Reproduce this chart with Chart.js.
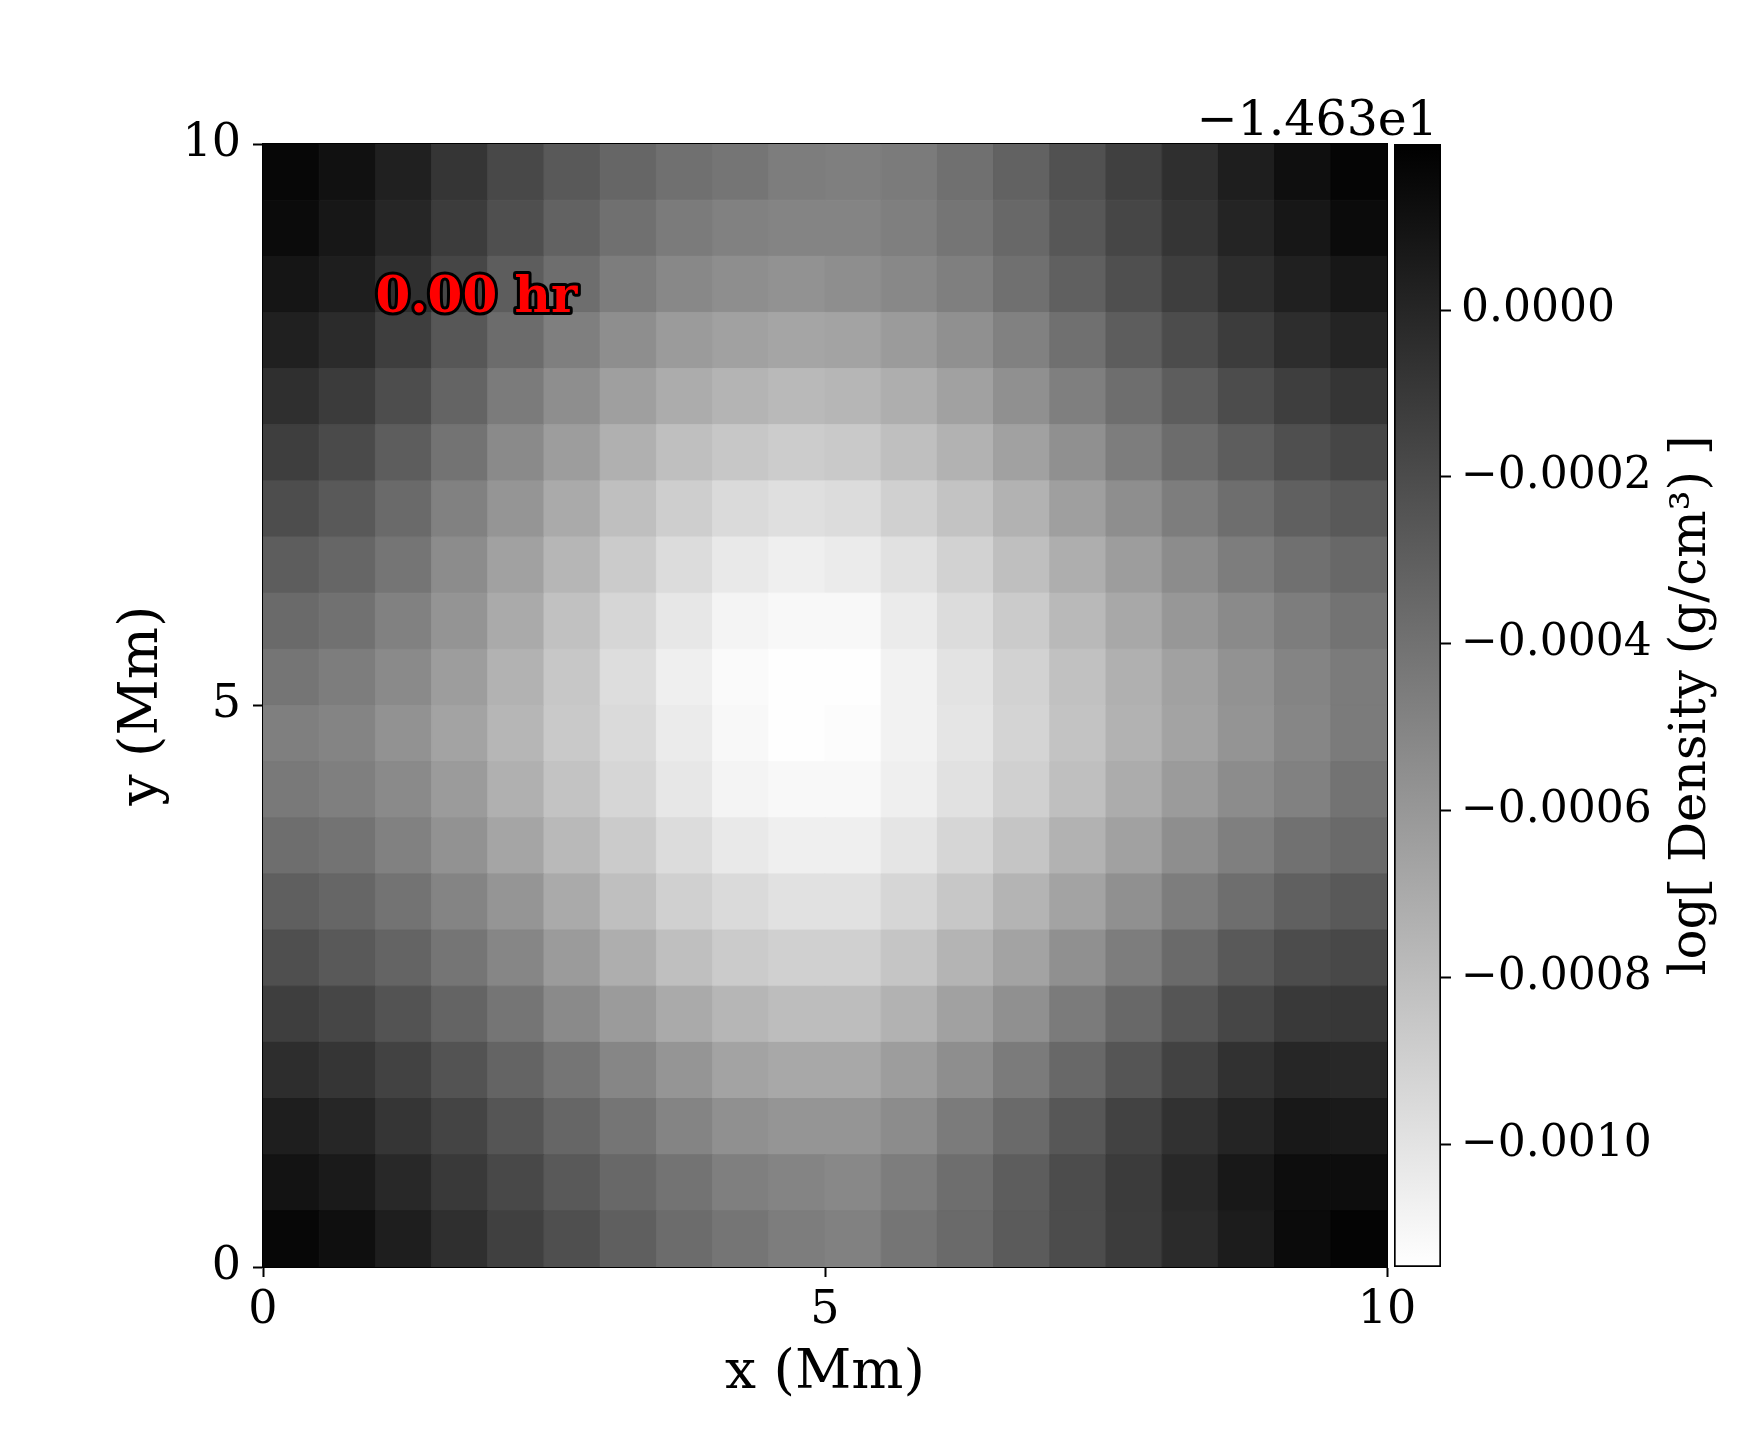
<!DOCTYPE html>
<html>
<head>
<meta charset="utf-8">
<title>log Density</title>
<script src="https://cdn.jsdelivr.net/npm/chart.js@4.4.1/dist/chart.umd.min.js"></script>
<style>
  html, body { margin: 0; padding: 0; background: #fff; }
  #wrap { position: relative; width: 1750px; height: 1440px; }
  #wrap canvas { position: absolute; left: 0; top: 0; }
</style>
</head>
<body>
<div id="wrap">
  <canvas id="densityMap" width="1750" height="1440"></canvas>
  <canvas id="colorBar" width="1750" height="1440"></canvas>
</div>
<script>
// cell centres (Mm)
const xCenters = [0.25, 0.75, 1.25, 1.75, 2.25, 2.75, 3.25, 3.75, 4.25, 4.75,
                  5.25, 5.75, 6.25, 6.75, 7.25, 7.75, 8.25, 8.75, 9.25, 9.75];
const yCenters = [9.75, 9.25, 8.75, 8.25, 7.75, 7.25, 6.75, 6.25, 5.75, 5.25,
                  4.75, 4.25, 3.75, 3.25, 2.75, 2.25, 1.75, 1.25, 0.75, 0.25];

// log density, relative to the offset, in units of 1e-4 (rows from top y=9.75 down)
const densityOffset = '\u22121.463e1';
const densityRows = [
  [1.6, 1.1, 0.3, -0.8, -1.8, -2.7, -3.4, -3.9, -4.2, -4.6, -4.7, -4.5, -3.9, -3.2, -2.3, -1.4, -0.5, 0.4, 1.2, 1.7],
  [1.4, 0.8, 0.0, -1.2, -2.2, -3.2, -3.9, -4.5, -4.8, -5.0, -5.0, -4.7, -4.2, -3.5, -2.6, -1.7, -0.8, 0.1, 0.8, 1.4],
  [0.9, 0.4, -0.5, -1.7, -2.9, -3.8, -4.6, -5.2, -5.5, -5.7, -5.5, -5.2, -4.7, -3.9, -3.1, -2.2, -1.3, -0.4, 0.3, 0.8],
  [0.3, -0.3, -1.3, -2.6, -3.7, -4.7, -5.5, -6.2, -6.5, -6.7, -6.6, -6.2, -5.6, -4.8, -3.9, -2.9, -2.0, -1.2, -0.4, 0.1],
  [-0.5, -1.1, -2.1, -3.3, -4.5, -5.5, -6.4, -7.1, -7.5, -7.8, -7.6, -7.2, -6.5, -5.6, -4.7, -3.8, -2.9, -2.0, -1.3, -0.8],
  [-1.3, -1.9, -2.9, -4.1, -5.3, -6.3, -7.3, -8.1, -8.5, -8.8, -8.6, -8.1, -7.4, -6.5, -5.6, -4.6, -3.7, -2.9, -2.2, -1.7],
  [-2.1, -2.7, -3.6, -4.8, -5.9, -7.0, -8.1, -8.9, -9.5, -9.8, -9.6, -9.0, -8.3, -7.4, -6.4, -5.5, -4.6, -3.8, -3.1, -2.7],
  [-2.9, -3.4, -4.2, -5.4, -6.5, -7.6, -8.7, -9.6, -10.3, -10.6, -10.4, -9.9, -9.1, -8.1, -7.2, -6.3, -5.4, -4.6, -3.9, -3.5],
  [-3.6, -4.0, -4.8, -5.8, -7.0, -8.2, -9.3, -10.2, -10.9, -11.1, -11.1, -10.4, -9.6, -8.7, -7.8, -6.9, -6.0, -5.3, -4.6, -4.1],
  [-4.2, -4.6, -5.3, -6.3, -7.4, -8.5, -9.7, -10.6, -11.2, -11.4, -11.4, -10.8, -10.0, -9.1, -8.2, -7.3, -6.5, -5.7, -5.0, -4.5],
  [-4.7, -5.0, -5.7, -6.6, -7.6, -8.6, -9.5, -10.4, -11.1, -11.4, -11.3, -10.8, -10.1, -9.2, -8.3, -7.4, -6.6, -5.8, -5.1, -4.5],
  [-4.4, -4.7, -5.3, -6.2, -7.3, -8.3, -9.3, -10.2, -10.9, -11.1, -11.1, -10.6, -9.9, -9.0, -8.1, -7.1, -6.2, -5.4, -4.8, -4.1],
  [-3.8, -4.1, -4.8, -5.7, -6.7, -7.8, -8.7, -9.6, -10.3, -10.6, -10.6, -10.1, -9.3, -8.4, -7.4, -6.5, -5.5, -4.7, -4.0, -3.6],
  [-3.0, -3.4, -4.1, -5.0, -5.9, -7.0, -8.1, -9.0, -9.5, -9.9, -9.9, -9.3, -8.5, -7.5, -6.6, -5.6, -4.6, -3.8, -3.1, -2.7],
  [-2.2, -2.7, -3.3, -4.2, -5.1, -6.2, -7.2, -8.1, -8.7, -9.0, -9.0, -8.4, -7.5, -6.6, -5.6, -4.6, -3.6, -2.7, -2.0, -1.8],
  [-1.3, -1.7, -2.4, -3.3, -4.2, -5.3, -6.2, -7.0, -7.6, -8.0, -8.0, -7.4, -6.5, -5.6, -4.5, -3.5, -2.5, -1.7, -1.0, -0.9],
  [-0.4, -0.8, -1.5, -2.4, -3.3, -4.2, -5.1, -5.9, -6.6, -6.9, -6.9, -6.3, -5.5, -4.5, -3.5, -2.5, -1.5, -0.6, 0.0, -0.1],
  [0.4, 0.0, -0.8, -1.6, -2.5, -3.4, -4.2, -5.0, -5.6, -5.9, -5.9, -5.4, -4.5, -3.6, -2.6, -1.5, -0.6, 0.1, 0.7, 0.6],
  [1.0, 0.6, -0.1, -1.0, -1.8, -2.7, -3.5, -4.1, -4.7, -5.0, -5.2, -4.6, -3.8, -2.9, -2.0, -1.1, -0.1, 0.7, 1.3, 1.3],
  [1.6, 1.2, 0.4, -0.5, -1.4, -2.2, -3.0, -3.7, -4.2, -4.6, -4.8, -4.2, -3.6, -2.8, -2.0, -1.2, -0.3, 0.5, 1.4, 1.8]
];

const axisTicks = [0, 5, 10];
const cbTicks = [0, -2, -4, -6, -8, -10];   // x 1e-4
const cbMin = -11.47;
const cbMax = 1.99;
const timeLabel = '0.00 hr';

const SERIF = '"DejaVu Serif", "Liberation Serif", serif';
const cellSize = xCenters[1] - xCenters[0];

function grayFor(v) {
  let t = (cbMax - v) / (cbMax - cbMin);
  t = Math.max(0, Math.min(1, t));
  const g = Math.round(255 * t);
  return 'rgb(' + g + ',' + g + ',' + g + ')';
}

const cells = [];
densityRows.forEach(function(row, i) {
  row.forEach(function(v, j) {
    cells.push({ x: xCenters[j], y: yCenters[i], v: v });
  });
});

function cellRadius(ctx) {
  const sx = ctx.chart.scales.x;
  const side = Math.abs(sx.getPixelForValue(cellSize) - sx.getPixelForValue(0));
  return side / Math.SQRT2;
}

const fixedWidth = function(w) { return function(scale) { scale.width = w; }; };
const fixedHeight = function(h) { return function(scale) { scale.height = h; }; };

// red time stamp with black outline
const timeStampPlugin = {
  id: 'timeStamp',
  afterDatasetsDraw(chart) {
    const c = chart.ctx;
    const px = chart.scales.x.getPixelForValue(1.0);
    const py = chart.scales.y.getPixelForValue(8.5);
    c.save();
    c.font = 'bold 50px ' + SERIF;
    c.textAlign = 'left';
    c.textBaseline = 'alphabetic';
    c.lineJoin = 'round';
    c.lineWidth = 6;
    c.strokeStyle = '#000';
    c.strokeText(timeLabel, px, py);
    c.fillStyle = '#ff0000';
    c.fillText(timeLabel, px, py);
    c.restore();
  }
};

const tickFont = { family: SERIF, size: 46 };
const cbTickFont = { family: SERIF, size: 44 };
const titleFont = { family: SERIF, size: 55 };

new Chart(document.getElementById('densityMap'), {
  type: 'scatter',
  data: {
    datasets: [{
      data: cells,
      pointStyle: 'rect',
      pointRadius: cellRadius,
      pointHoverRadius: cellRadius,
      pointBackgroundColor: function(ctx) { return grayFor(ctx.raw.v); },
      pointBorderColor: function(ctx) { return grayFor(ctx.raw.v); },
      pointBorderWidth: 1
    }]
  },
  options: {
    responsive: false,
    animation: false,
    events: [],
    layout: { padding: 0 },
    plugins: { legend: { display: false }, tooltip: { enabled: false } },
    scales: {
      x: {
        type: 'linear', position: 'bottom', min: 0, max: 10, z: 1,
        afterBuildTicks: function(s) { s.ticks = axisTicks.map(function(v) { return { value: v }; }); },
        afterFit: fixedHeight(173),
        ticks: { font: tickFont, color: '#000', padding: 6 },
        grid: { drawOnChartArea: false, tickLength: 10, tickWidth: 2, color: '#000' },
        border: { display: true, color: '#000', width: 2 },
        title: { display: true, text: 'x (Mm)', font: titleFont, color: '#000', padding: { top: 0, bottom: 33 } }
      },
      y: {
        type: 'linear', position: 'left', min: 0, max: 10, z: 1,
        afterBuildTicks: function(s) { s.ticks = axisTicks.map(function(v) { return { value: v }; }); },
        afterFit: fixedWidth(263),
        ticks: { font: tickFont, color: '#000', padding: 12 },
        grid: { drawOnChartArea: false, tickLength: 10, tickWidth: 2, color: '#000' },
        border: { display: true, color: '#000', width: 2 },
        title: { display: true, text: 'y (Mm)', font: titleFont, color: '#000', padding: { top: 110, bottom: 0 } }
      },
      x2: {
        type: 'linear', position: 'top', min: 0, max: 10, z: 1,
        afterFit: fixedHeight(144),
        ticks: { display: false },
        grid: { display: false },
        border: { display: true, color: '#000', width: 2 }
      },
      y2: {
        type: 'linear', position: 'right', min: 0, max: 10, z: 1,
        afterFit: fixedWidth(363),
        ticks: { display: false },
        grid: { display: false },
        border: { display: true, color: '#000', width: 2 }
      }
    }
  },
  plugins: [timeStampPlugin]
});

// colour bar label and offset text
const colorBarText = {
  id: 'colorBarText',
  afterDraw(chart) {
    const c = chart.ctx;
    const area = chart.chartArea;
    c.save();
    c.fillStyle = '#000';
    c.font = '49px ' + SERIF;
    c.textAlign = 'right';
    c.textBaseline = 'alphabetic';
    c.fillText(densityOffset, area.right - 3, area.top - 9);
    c.translate(1692, (area.top + area.bottom) / 2);
    c.rotate(-Math.PI / 2);
    c.font = '50px ' + SERIF;
    c.textAlign = 'center';
    c.textBaseline = 'middle';
    c.fillText('log[ Density (g/cm\u00b3) ]', 0, 0);
    c.restore();
  }
};

new Chart(document.getElementById('colorBar'), {
  type: 'bar',
  data: {
    labels: ['cb'],
    datasets: [{
      data: [[cbMin, cbMax]],
      backgroundColor: function(ctx) {
        const ch = ctx.chart;
        if (!ch.chartArea) return '#888';
        const sy = ch.scales.y;
        const grad = ch.ctx.createLinearGradient(0, sy.getPixelForValue(cbMax), 0, sy.getPixelForValue(cbMin));
        grad.addColorStop(0, 'rgb(0,0,0)');
        grad.addColorStop(1, 'rgb(255,255,255)');
        return grad;
      },
      borderColor: '#000',
      borderWidth: 2,
      borderSkipped: false,
      barPercentage: 1,
      categoryPercentage: 1
    }]
  },
  options: {
    responsive: false,
    animation: false,
    events: [],
    layout: { padding: { left: 1394, top: 144, bottom: 173, right: 0 } },
    plugins: { legend: { display: false }, tooltip: { enabled: false } },
    scales: {
      x: { display: false },
      y: {
        position: 'right', min: cbMin, max: cbMax,
        afterBuildTicks: function(s) { s.ticks = cbTicks.map(function(v) { return { value: v }; }); },
        afterFit: fixedWidth(309),
        ticks: {
          font: cbTickFont, color: '#000', padding: 10,
          callback: function(v) { return (v * 1e-4).toFixed(4).replace('-', '\u2212'); }
        },
        grid: { drawOnChartArea: false, tickLength: 10, tickWidth: 2, color: '#000' },
        border: { display: false }
      }
    }
  },
  plugins: [colorBarText]
});
</script>
</body>
</html>
